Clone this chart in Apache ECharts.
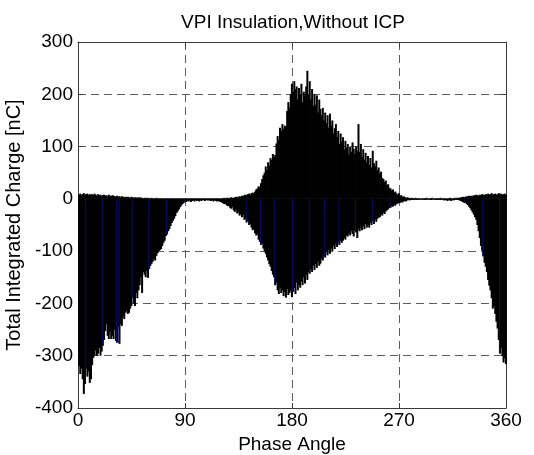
<!DOCTYPE html>
<html>
<head>
<meta charset="utf-8">
<script src="https://cdn.jsdelivr.net/npm/echarts@6/dist/echarts.min.js"></script>
<style>
  html, body { margin: 0; padding: 0; background: #fff; }
  #chart { width: 534px; height: 455px; }
</style>
</head>
<body>
<div id="chart"></div>
<script>
// phase bins, one per degree (0..359)
const positiveCharge = [
  8, 10, 7, 9, 11, 8, 9, 10, 7, 9,
  8, 9, 7, 10, 8, 6, 9, 7, 8, 6,
  7, 8, 6, 7, 5, 8, 6, 5, 7, 6,
  5, 4, 6, 4, 5, 3, 5, 4, 3, 4,
  3, 4, 3, 2, 4, 3, 2, 3, 2, 3,
  2, 3, 2, 2, 1, 2, 2, 1, 2, 1,
  1, 2, 1, 1, 1, 2, 1, 1, 1, 1,
  1, 1, 1, 1, 1, 1, 1, 1, 1, 1,
  1, 1, 1, 1, 1, 1, 1, 1, 1, 1,
  1, 1, 1, 1, 1, 1, 1, 1, 1, 1,
  1, 1, 1, 1, 1, 1, 1, 1, 1, 1,
  1, 1, 1, 1, 1, 1, 1, 1, 1, 1,
  1, 1, 2, 1, 2, 2, 1, 2, 3, 2,
  2, 3, 4, 3, 4, 5, 4, 6, 5, 7,
  8, 7, 9, 10, 8, 11, 12, 10, 14, 18,
  20, 24, 22, 30, 38, 45, 50, 62, 55, 70,
  64, 78, 74, 86, 80, 84, 106, 120, 112, 136,
  130, 143, 134, 140, 138, 168, 185, 175, 200, 220,
  205, 225, 210, 215, 190, 212, 200, 220, 185, 205,
  198, 215, 245, 200, 225, 190, 210, 178, 200, 180,
  198, 165, 190, 172, 160, 174, 150, 165, 145, 160,
  136, 163, 140, 150, 125, 135, 143, 118, 130, 105,
  125, 110, 118, 95, 111, 98, 105, 85, 100, 90,
  108, 96, 86, 100, 92, 143, 90, 105, 80, 95,
  75, 88, 70, 82, 65, 78, 60, 92, 68, 62,
  73, 55, 60, 48, 52, 40, 38, 32, 35, 26,
  28, 21, 20, 16, 18, 12, 14, 10, 8, 11,
  6, 7, 4, 5, 3, 2, 3, 2, 2, 1,
  2, 1, 1, 2, 1, 1, 1, 1, 1, 1,
  1, 1, 2, 1, 1, 1, 1, 2, 1, 1,
  1, 1, 1, 1, 2, 1, 1, 1, 1, 1,
  1, 1, 2, 1, 1, 1, 2, 1, 2, 2,
  2, 3, 3, 4, 3, 4, 5, 4, 6, 5,
  6, 5, 7, 6, 8, 7, 6, 8, 7, 9,
  8, 7, 9, 8, 10, 8, 9, 11, 8, 9,
  10, 8, 9, 11, 9, 10, 8, 9, 10, 8
]

const negativeCharge = [
  -320, -335, -325, -345, -373, -354, -325, -340, -330, -352,
  -345, -318, -304, -300, -290, -300, -296, -285, -300, -292,
  -281, -270, -253, -240, -262, -268, -255, -268, -262, -268,
  -250, -272, -275, -245, -277, -240, -243, -225, -230, -218,
  -215, -220, -218, -210, -205, -189, -200, -205, -180, -190,
  -175, -165, -150, -180, -140, -145, -150, -138, -151, -134,
  -128, -124, -120, -115, -118, -109, -104, -100, -98, -96,
  -90, -84, -80, -71, -68, -62, -58, -52, -46, -42,
  -38, -33, -27, -24, -20, -16, -13, -10, -8, -5,
  -6, -4, -5, -3, -6, -4, -3, -5, -3, -4,
  -3, -5, -3, -4, -2, -3, -4, -2, -3, -3,
  -3, -4, -3, -5, -3, -4, -5, -4, -5, -6,
  -7, -8, -10, -9, -12, -14, -13, -17, -19, -16,
  -22, -25, -21, -28, -26, -32, -30, -35, -30, -40,
  -38, -45, -42, -50, -48, -55, -60, -58, -66, -70,
  -68, -78, -82, -88, -85, -95, -100, -105, -112, -118,
  -125, -130, -138, -145, -150, -165, -160, -175, -182, -170,
  -180, -175, -186, -178, -189, -172, -184, -180, -176, -188,
  -178, -170, -182, -160, -175, -165, -170, -158, -165, -150,
  -162, -145, -155, -140, -143, -135, -140, -128, -136, -125,
  -132, -120, -128, -124, -115, -118, -108, -112, -102, -108,
  -98, -105, -95, -100, -90, -96, -86, -92, -82, -88,
  -80, -84, -80, -75, -78, -70, -72, -66, -70, -62,
  -67, -72, -60, -64, -75, -58, -62, -55, -60, -52,
  -58, -48, -55, -50, -55, -46, -50, -42, -48, -40,
  -44, -38, -36, -35, -30, -32, -27, -29, -24, -22,
  -20, -17, -17, -14, -15, -12, -13, -10, -9, -8,
  -8, -6, -7, -5, -4, -5, -3, -2, -3, -2,
  -1, -2, -2, -1, -2, -1, -2, -1, -1, -2,
  -1, -2, -1, -1, -2, -1, -2, -1, -1, -2,
  -1, -2, -1, -2, -2, -1, -2, -3, -2, -3,
  -4, -2, -3, -4, -2, -3, -2, -1, -2, -2,
  -3, -4, -5, -6, -8, -7, -10, -12, -15, -18,
  -22, -26, -30, -35, -40, -50, -62, -75, -90, -99,
  -110, -122, -130, -140, -155, -166, -175, -190, -210, -205,
  -220, -235, -248, -270, -296, -285, -300, -313, -305, -316
]

// bins where the negative bar shows up dark blue
const blueBins = [6, 20, 32, 34, 45, 59, 74, 87, 141, 153, 165, 180, 194, 207, 219, 233, 247, 262, 325, 340, 354]

const xTicks = [0, 90, 180, 270, 360]
const yTicks = [-400, -300, -200, -100, 0, 100, 200, 300]

const chart = echarts.init(document.getElementById('chart'))

const font = 'Liberation Sans, Arial, Helvetica, sans-serif'
const gridLine = { show: true, lineStyle: { color: '#5e5e5e', type: [8, 5], width: 1 } }
const boxLine = { show: true, onZero: false, lineStyle: { color: '#3a3a3a', width: 1 } }
const inTick = { show: true, inside: true, length: 5, lineStyle: { color: '#3a3a3a' } }

const posData = positiveCharge.map((v, i) => [i + 0.5, v])
const negData = negativeCharge.map((v, i) => [i + 0.5, v])
const blueData = blueBins.map(b => [b + 0.5, negativeCharge[b]])

const option = {
  animation: false,
  backgroundColor: '#fff',
  title: {
    text: 'VPI Insulation,Without ICP',
    left: 288,
    top: 8,
    textAlign: 'center',
    textStyle: { fontFamily: font, fontSize: 19, fontWeight: 'normal', color: '#000' }
  },
  grid: { left: 78, right: 28, top: 42, bottom: 47, containLabel: false, outerBoundsMode: 'none' },
  xAxis: [
    {
      type: 'value', min: xTicks[0], max: xTicks[xTicks.length - 1], interval: 90,
      position: 'bottom',
      name: 'Phase Angle', nameLocation: 'middle', nameGap: 24,
      nameTextStyle: { fontFamily: font, fontSize: 19, color: '#000' },
      axisLine: boxLine, axisTick: inTick,
      axisLabel: { fontFamily: font, fontSize: 19, color: '#000', margin: 3 },
      splitLine: gridLine
    },
    {
      type: 'value', min: xTicks[0], max: xTicks[xTicks.length - 1], interval: 90,
      position: 'top',
      axisLine: boxLine, axisTick: inTick,
      axisLabel: { show: false }, splitLine: { show: false }
    }
  ],
  yAxis: [
    {
      type: 'value', min: yTicks[0], max: yTicks[yTicks.length - 1], interval: 100,
      position: 'left',
      name: 'Total Integrated Charge [nC]', nameLocation: 'middle', nameGap: 47,
      nameTextStyle: { fontFamily: font, fontSize: 20, color: '#000' },
      axisLine: boxLine, axisTick: inTick,
      axisLabel: { fontFamily: font, fontSize: 19, color: '#000', margin: 5 },
      splitLine: gridLine
    },
    {
      type: 'value', min: yTicks[0], max: yTicks[yTicks.length - 1], interval: 100,
      position: 'right',
      axisLine: boxLine, axisTick: inTick,
      axisLabel: { show: false }, splitLine: { show: false }
    }
  ],
  series: [
    {
      name: 'positive',
      type: 'bar',
      xAxisIndex: 0, yAxisIndex: 0,
      barWidth: 2,
      barGap: '-100%',
      itemStyle: { color: '#000' },
      data: posData,
      markLine: {
        silent: true, symbol: 'none', z: 1,
        label: { show: false },
        lineStyle: { color: '#808080', type: 'solid', width: 1 },
        data: [{ yAxis: 0 }]
      }
    },
    {
      name: 'negative',
      type: 'bar',
      xAxisIndex: 0, yAxisIndex: 0,
      barWidth: 2,
      barGap: '-100%',
      itemStyle: { color: '#000' },
      data: negData
    },
    {
      name: 'negative (blue edge)',
      type: 'bar',
      xAxisIndex: 0, yAxisIndex: 0,
      barWidth: 1,
      barGap: '-100%',
      z: 3,
      itemStyle: { color: '#0b0b70' },
      data: blueData
    }
  ]
}

chart.setOption(option)
</script>
</body>
</html>
